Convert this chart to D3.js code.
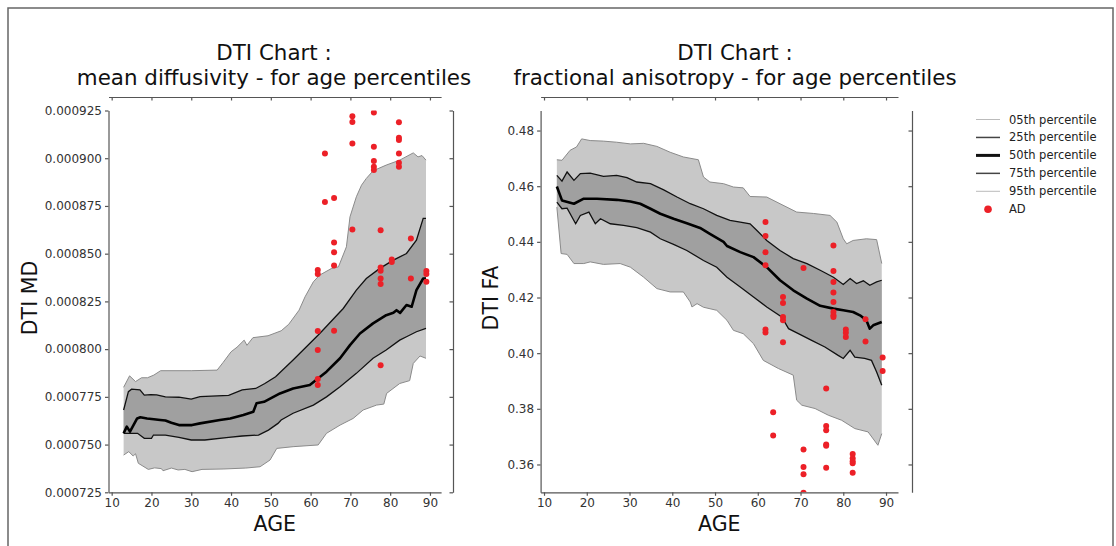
<!DOCTYPE html>
<html>
<head>
<meta charset="utf-8">
<script src="https://cdn.jsdelivr.net/npm/d3@7"></script>
<style>
  body { margin: 0; background: #fff; }
  svg { display: block; font-family: "DejaVu Sans", sans-serif; }
  .axis path, .axis line { stroke: #555; stroke-width: 1.2; }
  .axis text { fill: #333; font-size: 12px; font-family: "DejaVu Sans", sans-serif; }
</style>
</head>
<body>
<div id="chart"></div>
<script>
// ---- data ----
const ageTicks = [10, 20, 30, 40, 50, 60, 70, 80, 90];
const mdTicks = [0.000725, 0.00075, 0.000775, 0.0008, 0.000825, 0.00085, 0.000875, 0.0009, 0.000925];
const faTicks = [0.36, 0.38, 0.40, 0.42, 0.44, 0.46, 0.48];
const legendLabels = ["05th percentile", "25th percentile", "50th percentile", "75th percentile", "95th percentile", "AD"];

// mean diffusivity percentiles: [age, value]
const mdP95 = [[13, 0.000780], [14.5, 0.000786], [16, 0.000783], [17.5, 0.000785], [19, 0.000785], [20.6, 0.0007864],
  [22.3, 0.0007887], [30, 0.0007887], [36.5, 0.000789], [38, 0.000793], [40, 0.0007986], [41.5, 0.000801],
  [43.3, 0.0008047], [44, 0.000802], [45.5, 0.000806], [49.3, 0.000807], [52.6, 0.0008096], [54.5, 0.000813],
  [57.1, 0.0008204], [58.6, 0.0008274], [60.7, 0.0008353], [62.3, 0.0008388], [65.3, 0.0008423], [67, 0.0008431],
  [69, 0.0008536], [69.9, 0.0008693], [71.5, 0.0008798], [72.8, 0.0008859], [74, 0.0008894], [75.7, 0.0008934],
  [79, 0.0008964], [82.4, 0.000899], [85.8, 0.0009028], [87, 0.0009007], [88, 0.0009014], [89, 0.000899]];
const mdP75 = [[13, 0.0007681], [14.2, 0.0007777], [15, 0.000779], [17.1, 0.0007787], [18.2, 0.0007759], [19.8, 0.0007762],
  [21.3, 0.000776], [23.5, 0.000775], [26.9, 0.0007748], [30, 0.0007738], [32.2, 0.0007751], [39.4, 0.0007758],
  [42.8, 0.0007786], [46.2, 0.0007794], [48.5, 0.000782], [51.2, 0.0007855], [55.6, 0.0007943], [62.3, 0.0008082],
  [68.2, 0.0008213], [71.5, 0.0008309], [74, 0.000837], [77.4, 0.0008423], [80.8, 0.0008466], [84.1, 0.0008501],
  [86.6, 0.0008571], [88.3, 0.0008685], [89, 0.0008685]];
const mdP50 = [[13, 0.0007559], [13.8, 0.0007594], [14.6, 0.0007568], [16.4, 0.0007637], [17.2, 0.0007643], [18.9, 0.0007637],
  [20.6, 0.0007633], [22.2, 0.0007629], [23.5, 0.0007626], [25, 0.0007614], [26.9, 0.0007602], [30.2, 0.0007602],
  [32.2, 0.0007611], [37.2, 0.0007629], [39.8, 0.0007637], [43.1, 0.0007655], [45.6, 0.0007672], [46.4, 0.0007716],
  [48.3, 0.0007724], [52.3, 0.0007768], [55.6, 0.0007794], [59.8, 0.0007812], [64, 0.0007882], [67.4, 0.0007952],
  [69.9, 0.0008021], [72.4, 0.0008082], [75.7, 0.0008135], [79, 0.0008178], [80.8, 0.000819], [81.6, 0.0008204],
  [82.5, 0.000819], [84.1, 0.0008231], [85.4, 0.0008222], [86.6, 0.0008309], [88.3, 0.000837], [89, 0.000837]];
const mdP25 = [[13, 0.0007559], [16.5, 0.0007559], [18.2, 0.0007533], [20, 0.0007533], [20.5, 0.000755], [23.5, 0.000755],
  [26.9, 0.0007538], [30, 0.0007524], [33.4, 0.0007524], [39.4, 0.0007538], [42.8, 0.0007545], [46.9, 0.000755],
  [49.4, 0.0007576], [51.8, 0.0007611], [52.6, 0.0007629], [55.6, 0.0007664], [60.7, 0.0007707], [64, 0.000775],
  [67.4, 0.0007803], [71.5, 0.0007873], [75.7, 0.0007952], [79, 0.0007995], [82.4, 0.0008047], [84.1, 0.0008065],
  [86.6, 0.0008091], [89, 0.0008109]];
const mdP05 = [[13, 0.0007445], [14.3, 0.0007463], [15.4, 0.000744], [16, 0.0007452], [16.7, 0.0007402], [19.2, 0.000737],
  [20.8, 0.0007378], [22.5, 0.0007374], [22.9, 0.0007363], [25, 0.0007377], [26.7, 0.0007367], [28.4, 0.000737],
  [30.2, 0.0007358], [32.7, 0.000737], [38, 0.0007372], [43.7, 0.0007377], [47.3, 0.0007384], [49.8, 0.0007419],
  [51.5, 0.000748], [55.6, 0.0007489], [61.9, 0.0007498], [64, 0.0007559], [67.4, 0.0007602], [70.7, 0.0007637],
  [73.2, 0.0007681], [76.6, 0.0007707], [78.4, 0.0007712], [79.1, 0.0007768], [82.4, 0.000782], [84.9, 0.0007835],
  [85.8, 0.0007925], [87.5, 0.0007964], [89, 0.0007952]];
const mdAD = [[61.8, 0.0008414], [61.8, 0.0008393], [61.8, 0.0008095], [61.8, 0.0007995], [61.8, 0.0007843], [61.8, 0.0007812],
  [63.6, 0.0009025], [63.6, 0.0008771],
  [65.9, 0.0008792], [65.9, 0.0008559], [65.9, 0.0008507], [65.9, 0.0008438], [65.9, 0.0008096],
  [70.5, 0.000922], [70.5, 0.000919], [70.5, 0.0009077], [70.5, 0.0008627],
  [75.9, 0.000924], [75.9, 0.000906], [75.9, 0.0008986], [75.9, 0.0008955], [75.9, 0.0008938],
  [77.6, 0.0008623], [77.6, 0.0008428], [77.6, 0.000841], [77.6, 0.000837], [77.6, 0.0008341], [77.6, 0.0007915],
  [80.4, 0.000847], [80.4, 0.0008457],
  [82.2, 0.0009189], [82.2, 0.0009107], [82.2, 0.0009095], [82.2, 0.0009025], [82.2, 0.0008976], [82.2, 0.0008955],
  [85.2, 0.000858], [85.2, 0.000837],
  [89.1, 0.0008409], [89.1, 0.0008393], [89.1, 0.0008353]];

// fractional anisotropy percentiles: [age, value]
const faP95 = [[13, 0.4695], [14.2, 0.4693], [16.1, 0.4729], [17.6, 0.4741], [18.8, 0.477], [20.8, 0.4764], [23.9, 0.4762],
  [27, 0.4758], [30.2, 0.4752], [33.3, 0.4754], [36.4, 0.4743], [39.5, 0.4722], [42.6, 0.4705], [46.1, 0.4695],
  [47.3, 0.4633], [48.8, 0.4615], [52, 0.4609], [54.3, 0.4597], [56.6, 0.4594], [58.2, 0.4563], [62.1, 0.4561],
  [65.2, 0.4537], [69.1, 0.4507], [73, 0.4502], [76.9, 0.4495], [78.5, 0.4471], [80, 0.4411], [80.8, 0.4393],
  [82.3, 0.4405], [85.4, 0.4411], [87.8, 0.4408], [89, 0.4322]];
const faP75 = [[13, 0.4639], [14.2, 0.4618], [15.4, 0.4651], [17, 0.4621], [18.5, 0.4645], [20.8, 0.4647], [23.9, 0.4635],
  [27, 0.4639], [29.4, 0.4631], [31.7, 0.4615], [34.9, 0.4609], [38, 0.4587], [41.1, 0.4561], [44.2, 0.4537],
  [47.3, 0.4519], [50.4, 0.4495], [53.5, 0.4477], [55.9, 0.4471], [58.2, 0.4465], [59.8, 0.4441], [62.1, 0.4405],
  [65.2, 0.4369], [68.3, 0.434], [71.5, 0.4322], [74.6, 0.4298], [77.7, 0.4273], [80, 0.4247], [81.6, 0.4268],
  [83.1, 0.425], [84.7, 0.426], [86.2, 0.4244], [87.8, 0.4256], [89, 0.4262]];
const faP50 = [[13, 0.4599], [14.2, 0.4549], [17, 0.4537], [19.3, 0.4555], [22.4, 0.4555], [27, 0.4551], [30.2, 0.4545],
  [32.5, 0.4537], [34.9, 0.4519], [37.2, 0.4501], [40.3, 0.4483], [43.4, 0.4467], [46.5, 0.445], [48.8, 0.4429],
  [52, 0.44], [52.8, 0.4385], [55.9, 0.4363], [59, 0.4345], [62.1, 0.4309], [65.2, 0.4262], [68.3, 0.4226],
  [71.5, 0.4196], [74.6, 0.417], [77.7, 0.416], [80, 0.4154], [82.3, 0.4148], [83.9, 0.4136], [85.4, 0.4118],
  [86.2, 0.4088], [87, 0.41], [89, 0.4112]];
const faP25 = [[13, 0.4543], [14.2, 0.4519], [15.4, 0.4521], [17.4, 0.4465], [18.5, 0.4495], [20.5, 0.4507], [22, 0.4465],
  [23.2, 0.4483], [25.5, 0.4465], [28.6, 0.4459], [31.7, 0.4451], [34.9, 0.4435], [37.2, 0.4411], [40.3, 0.4391],
  [43.4, 0.4369], [47.3, 0.4333], [50.4, 0.4309], [52.8, 0.4273], [55.9, 0.4238], [59, 0.4202], [62.1, 0.4166],
  [65.6, 0.413], [67.2, 0.4088], [69.5, 0.407], [72.6, 0.4046], [75.7, 0.4022], [78.8, 0.3992], [80, 0.3981],
  [81.6, 0.401], [82.7, 0.3986], [85, 0.3981], [86.6, 0.3974], [87.8, 0.3932], [89, 0.3885]];
const faP05 = [[13, 0.4525], [14, 0.4358], [15.4, 0.4355], [17, 0.4322], [19.3, 0.4322], [20.8, 0.4328], [23.9, 0.4319],
  [27.8, 0.4322], [30.2, 0.4309], [33.3, 0.4273], [36.4, 0.4232], [39.5, 0.422], [42.6, 0.422], [44.2, 0.4184],
  [44.6, 0.4166], [45.8, 0.4178], [47.3, 0.4165], [50.4, 0.4154], [52.8, 0.4118], [54.3, 0.4082], [56.6, 0.407],
  [59, 0.4034], [61.3, 0.3974], [64.8, 0.3945], [68.3, 0.3921], [69.1, 0.3831], [70.3, 0.3813], [73.4, 0.3801],
  [76.5, 0.3777], [79.6, 0.3759], [82.7, 0.3729], [85.8, 0.3717], [88.1, 0.3669], [89, 0.3711]];
const faAD = [[61.8, 0.4471], [61.8, 0.4421], [61.8, 0.4363], [61.8, 0.4316], [61.8, 0.4085], [61.8, 0.4074],
  [63.6, 0.3788], [63.6, 0.3704],
  [65.9, 0.4202], [65.9, 0.418], [65.9, 0.413], [65.9, 0.4118], [65.9, 0.4039],
  [70.7, 0.4306], [70.7, 0.3654], [70.7, 0.3591], [70.7, 0.3565], [70.7, 0.3498],
  [76, 0.3873], [76, 0.3738], [76, 0.3723], [76, 0.3672], [76, 0.3667], [76, 0.3588],
  [77.7, 0.4387], [77.7, 0.4295], [77.7, 0.4256], [77.7, 0.4218], [77.7, 0.4184], [77.7, 0.4148], [77.7, 0.4136], [77.7, 0.413],
  [80.6, 0.4085], [80.6, 0.4073], [80.6, 0.4058],
  [82.2, 0.3638], [82.2, 0.3622], [82.2, 0.3612], [82.2, 0.3604], [82.2, 0.357],
  [85.2, 0.4122], [85.2, 0.4042],
  [89.2, 0.3984], [89.2, 0.3936]];

// ---- drawing ----
const W = 1116, H = 546;
const svg = d3.select("#chart").append("svg").attr("width", W).attr("height", H);

// outer frame (open at the bottom, cropped)
svg.append("path")
  .attr("d", `M8,${H + 5}V8H1113V${H + 5}`)
  .attr("fill", "none").attr("stroke", "#666").attr("stroke-width", 1.5);

function drawPanel(cfg) {
  const x = d3.scaleLinear().domain([9.2, 92.8]).range(cfg.xr);
  const y = d3.scaleLinear().domain(cfg.yd).range([492.3, 110.5]);
  const g = svg.append("g");

  const clipId = "clip-" + cfg.id;
  svg.append("clipPath").attr("id", clipId).append("rect")
    .attr("x", cfg.xr[0]).attr("y", 110.5)
    .attr("width", cfg.xr[1] - cfg.xr[0]).attr("height", 492.3 - 110.5);

  const plot = g.append("g").attr("clip-path", `url(#${clipId})`);
  const line = d3.line().x(d => x(d[0])).y(d => y(d[1]));
  const band = (top, bot) => line(top.concat(bot.slice().reverse())) + "Z";

  plot.append("path").attr("d", band(cfg.p95, cfg.p05))
    .attr("fill", "#c8c8c8").attr("stroke", "none");
  plot.append("path").attr("d", band(cfg.p75, cfg.p25))
    .attr("fill", "#a0a0a0").attr("stroke", "none");
  [cfg.p95, cfg.p05].forEach(s => plot.append("path").attr("d", line(s))
    .attr("fill", "none").attr("stroke", "#8a8a8a").attr("stroke-width", 1));
  [cfg.p75, cfg.p25].forEach(s => plot.append("path").attr("d", line(s))
    .attr("fill", "none").attr("stroke", "#111").attr("stroke-width", 1.3));
  plot.append("path").attr("d", line(cfg.p50))
    .attr("fill", "none").attr("stroke", "#000").attr("stroke-width", 2.6)
    .attr("stroke-linejoin", "round");

  plot.selectAll("circle").data(cfg.ad).join("circle")
    .attr("cx", d => x(d[0])).attr("cy", d => y(d[1])).attr("r", 3)
    .attr("fill", "#ec2027");

  // axes
  g.append("g").attr("class", "axis").attr("transform", "translate(0,492.3)")
    .call(d3.axisBottom(x).tickValues(ageTicks).tickSize(3.5).tickSizeOuter(0).tickPadding(3));
  g.append("g").attr("class", "axis").attr("transform", `translate(${cfg.xr[0]},0)`)
    .call(d3.axisLeft(y).tickValues(cfg.ticks).tickFormat(d3.format(cfg.fmt)).tickSize(3.5).tickSizeOuter(0).tickPadding(3));
  // offset mirrored spines
  g.append("g").attr("class", "axis").attr("transform", "translate(0,97)")
    .call(d3.axisBottom(x).tickValues(ageTicks).tickSize(3.5).tickSizeOuter(0).tickFormat(""));
  g.append("g").attr("class", "axis").attr("transform", `translate(${cfg.rightSpine},0)`)
    .call(d3.axisLeft(y).tickValues(cfg.ticks).tickSize(3.5).tickSizeOuter(0).tickFormat(""));

  // titles & labels
  const t = g.append("text").attr("text-anchor", "middle").attr("font-size", 21.4).attr("fill", "#111");
  t.append("tspan").attr("x", cfg.titleX).attr("y", 60).text("DTI Chart :");
  t.append("tspan").attr("x", cfg.titleX).attr("y", 85).text(cfg.title);
  g.append("text").attr("x", (cfg.xr[0] + cfg.xr[1]) / 2).attr("y", 531)
    .attr("text-anchor", "middle").attr("font-size", 20.5).attr("fill", "#111").text("AGE");
  g.append("text").attr("transform", `translate(${cfg.ylabX},298) rotate(-90)`)
    .attr("text-anchor", "middle").attr("font-size", 20.5).attr("fill", "#111").text(cfg.ylabel);
}

drawPanel({
  id: "md", xr: [108.5, 441.1], yd: [0.000725, 0.000925], ticks: mdTicks, fmt: ".6f",
  p05: mdP05, p25: mdP25, p50: mdP50, p75: mdP75, p95: mdP95, ad: mdAD,
  rightSpine: 453, titleX: 274, title: "mean diffusivity - for age percentiles",
  ylabel: "DTI MD", ylabX: 37
});
drawPanel({
  id: "fa", xr: [540.6, 898], yd: [0.35, 0.4872], ticks: faTicks, fmt: ".2f",
  p05: faP05, p25: faP25, p50: faP50, p75: faP75, p95: faP95, ad: faAD,
  rightSpine: 912, titleX: 735, title: "fractional anisotropy - for age percentiles",
  ylabel: "DTI FA", ylabX: 498
});

// legend
const legendStyles = [
  { stroke: "#bbb", w: 1 }, { stroke: "#444", w: 1.5 }, { stroke: "#111", w: 3 },
  { stroke: "#444", w: 1.5 }, { stroke: "#bbb", w: 1 }, null
];
const lg = svg.append("g").attr("transform", "translate(976,119.5)");
legendLabels.forEach((lab, i) => {
  const row = lg.append("g").attr("transform", `translate(0,${i * 17.95})`);
  const st = legendStyles[i];
  if (st) {
    row.append("line").attr("x1", 0).attr("x2", 24).attr("y1", 0).attr("y2", 0)
      .attr("stroke", st.stroke).attr("stroke-width", st.w);
  } else {
    row.append("circle").attr("cx", 12).attr("cy", 0).attr("r", 3.8).attr("fill", "#ec2027");
  }
  row.append("text").attr("x", 33).attr("y", 4).attr("font-size", 11.5).attr("fill", "#222").text(lab);
});
</script>
</body>
</html>
